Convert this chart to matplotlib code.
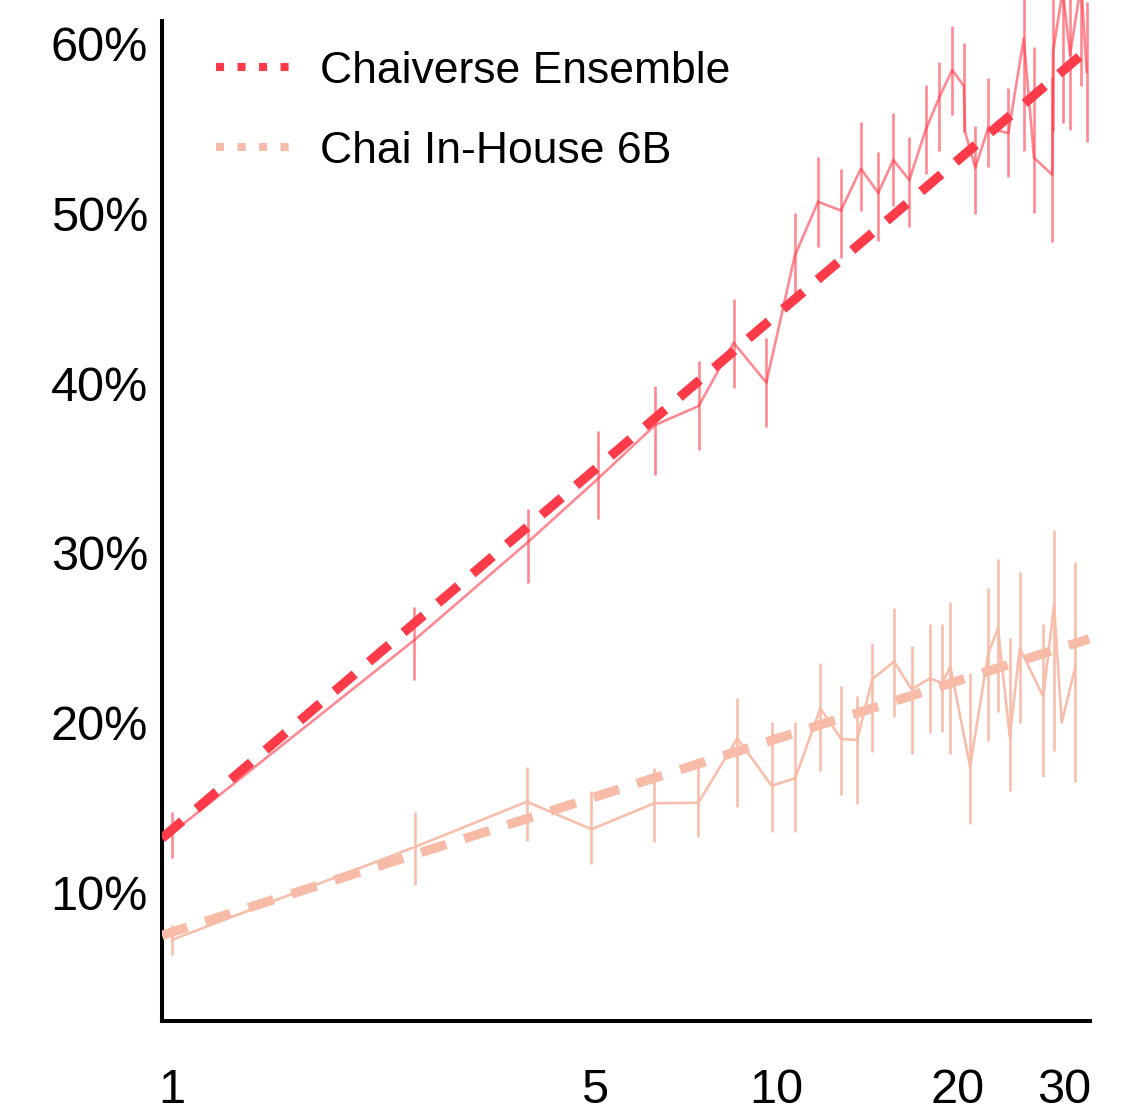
import numpy as np
import matplotlib
matplotlib.use("Agg")
import matplotlib.pyplot as plt
from matplotlib.lines import Line2D

plt.rcParams['font.family'] = ['Liberation Sans', 'DejaVu Sans']

# ---------------- data ----------------
series_names = ["Chaiverse Ensemble", "Chai In-House 6B"]

ens_x = [1.0, 2.52, 3.89, 5.08, 6.31, 7.45, 8.51, 9.64, 10.74, 11.74, 12.81, 13.82,
         14.77, 15.64, 16.62, 17.69, 18.64, 19.58, 20.46, 20.56, 21.38, 22.46, 24.25,
         25.71, 26.74, 28.68, 28.75, 29.84, 30.68, 32.0, 32.69]
ens_y = [13.53, 24.88, 30.66, 34.39, 37.53, 38.65, 42.37, 40.02, 47.47, 50.66, 50.14, 52.61,
         51.18, 53.12, 51.94, 54.88, 56.82, 58.41, 57.47, 54.78, 52.65, 55.02, 54.69,
         60.28, 53.25, 52.24, 59.49, 63.1, 59.29, 63.5, 58.31]
ens_lo = [12.06, 22.53, 28.25, 31.98, 34.59, 36.06, 39.71, 37.41, 44.76, 48.0, 47.35, 50.12,
          48.35, 50.41, 49.18, 52.29, 53.65, 55.76, 54.76, 54.78, 49.94, 52.71, 52.12,
          53.65, 50.0, 48.29, 54.8, 55.3, 54.88, 57.47, 54.2]
ens_hi = [14.76, 26.82, 32.57, 37.19, 39.82, 41.29, 44.94, 42.65, 50.0, 53.29, 52.59, 55.35,
          53.59, 55.88, 54.47, 57.53, 58.88, 61.0, 60.0, 54.78, 55.12, 57.94, 57.35,
          66.9, 59.78, 58.0, 64.2, 70.9, 63.7, 69.5, 62.4]

inh_x = [1.0, 2.53, 3.87, 4.95, 6.29, 7.44, 8.63, 9.84, 10.76, 11.84, 12.83, 13.63, 14.43,
         15.68, 16.78, 17.99, 18.83, 19.44, 20.96, 22.46, 23.31, 24.38, 25.33, 27.7,
         28.86, 29.72, 31.3]
inh_y = [7.24, 12.72, 15.37, 13.75, 15.28, 15.31, 19.10, 16.31, 16.75, 20.86, 19.06, 19.0,
         22.57, 23.61, 21.98, 22.63, 22.34, 23.31, 17.43, 24.1, 25.57, 19.19, 24.39, 21.55,
         26.94, 20.02, 23.31]
inh_lo = [6.35, 10.47, 13.06, 11.71, 13.0, 13.29, 15.06, 13.59, 13.59, 17.18, 15.76, 15.24,
          18.29, 20.35, 18.18, 19.41, 19.47, 18.18, 14.06, 18.94, 20.65, 16.0, 20.0, 16.82,
          18.35, 20.02, 16.53]
inh_hi = [8.12, 14.78, 17.41, 16.0, 17.35, 17.94, 21.47, 20.06, 20.06, 23.53, 22.18, 21.59,
          24.71, 26.76, 24.53, 25.82, 25.82, 27.12, 22.94, 27.94, 29.65, 25.0, 28.88, 25.82,
          31.35, 20.02, 29.47]

trend_x = [0.963, 33.0]
ens_trend = [13.22, 59.69]
inh_trend = [7.51, 24.95]

xticks = [1, 5, 10, 20, 30]
xtick_labels = ["1", "5", "10", "20", "30"]
yticks = [10, 20, 30, 40, 50, 60]
ytick_labels = ["10%", "20%", "30%", "40%", "50%", "60%"]

# ---------------- styling ----------------
RED = "#FF3B4A"
SALMON = "#F7BBA8"

W, H = 1147, 1115
fig = plt.figure(figsize=(W / 100, H / 100), dpi=100)
ax = fig.add_axes([162 / W, (H - 1021) / H, (1090 - 162) / W, 1021 / H])

ax.set_xscale("log")
ax.set_xlim(0.963, 33.1)
ax.set_ylim(2.47, 62.53)


def draw(x, y, lo, hi, color, alpha):
    x = np.asarray(x); y = np.asarray(y)
    lo = np.asarray(lo); hi = np.asarray(hi)
    ax.plot(x, y, color=color, alpha=alpha, lw=1.9, zorder=2)
    ax.vlines(x, lo, hi, color=color, alpha=alpha, lw=1.9, zorder=2)


draw(inh_x, inh_y, inh_lo, inh_hi, SALMON, 0.95)
draw(ens_x, ens_y, ens_lo, ens_hi, RED, 0.6)

ax.plot(trend_x, inh_trend, color=SALMON, lw=6.8, dashes=(2.8, 2.0),
        solid_capstyle="butt", dash_capstyle="butt", zorder=3)
ax.plot(trend_x, ens_trend, color=RED, lw=6.8, dashes=(2.8, 2.0),
        solid_capstyle="butt", dash_capstyle="butt", zorder=4)

# axes
for s in ["top", "right"]:
    ax.spines[s].set_visible(False)
for s in ["left", "bottom"]:
    ax.spines[s].set_linewidth(2.9)
    ax.spines[s].set_color("black")
ax.spines["left"].set_bounds(2.47, 61.31)

ax.set_xticks(xticks)
ax.set_xticklabels(xtick_labels)
ax.xaxis.set_minor_locator(matplotlib.ticker.NullLocator())
ax.set_yticks(yticks)
ax.set_yticklabels(ytick_labels)
ax.tick_params(axis="both", length=0, labelsize=35, colors="black")
ax.tick_params(axis="x", pad=34)
ax.tick_params(axis="y", pad=10)

handles = [
    Line2D([], [], color=RED, lw=5.8, dashes=(1.0, 1.67), dash_capstyle="butt"),
    Line2D([], [], color=SALMON, lw=5.8, dashes=(1.0, 1.67), dash_capstyle="butt"),
]
leg = ax.legend(handles, series_names, loc="upper left",
                bbox_to_anchor=(216 / W, 1 - 51 / H), bbox_transform=fig.transFigure,
                frameon=False, fontsize=32, handlelength=1.7, handletextpad=0.65,
                labelspacing=0.87, borderpad=0, borderaxespad=0)

fig.savefig("out.png", dpi=100)
